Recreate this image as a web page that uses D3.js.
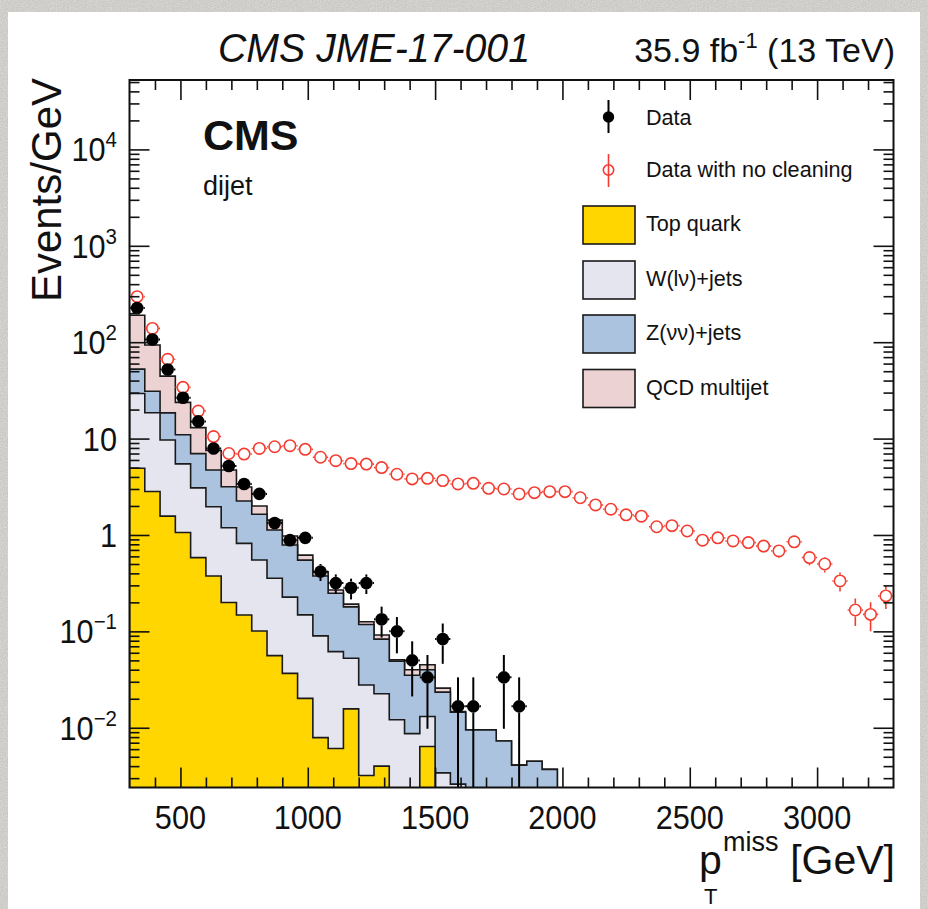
<!DOCTYPE html>
<html>
<head>
<meta charset="utf-8">
<script src="https://cdn.jsdelivr.net/npm/d3@7"></script>
<style>
  html, body { margin: 0; padding: 0; background: #dcd9d4; }
  svg { display: block; }
  text { font-family: "Liberation Sans", Arial, Helvetica, sans-serif; fill: #111; }
</style>
</head>
<body>
<svg id="chart" width="928" height="909"></svg>
<script>
// ---- binning: 50 bins of 60 GeV from 300 to 3300 GeV ----
const binLow = 300;
const binWidth = 60;
const nBins = 50;

// ---- simulated backgrounds, events/GeV per bin ----
const topQuark = [4.92, 2.83, 1.57, 1.06, 0.582, 0.376, 0.199, 0.148, 0.101, 0.056,
  0.0367, 0.0202, 0.0079, 0.0061, 0.0157, 0.0032, 0.0040, 0, 0, 0.0064,
  0, 0, 0, 0, 0, 0, 0, 0, 0, 0, 0, 0, 0, 0, 0, 0, 0, 0, 0, 0,
  0, 0, 0, 0, 0, 0, 0, 0, 0, 0];
const wJets = [24.4, 15.7, 8.1, 4.4, 2.5, 1.59, 0.99, 0.67, 0.45, 0.30,
  0.19, 0.128, 0.082, 0.0555, 0.037, 0.0246, 0.0185, 0.0121, 0.0087, 0.0067,
  0.0034, 0.0026, 0, 0, 0, 0, 0, 0, 0, 0, 0, 0, 0, 0, 0, 0, 0, 0, 0, 0,
  0, 0, 0, 0, 0, 0, 0, 0, 0, 0];
const zJets = [23.2, 12.5, 8.8, 5.5, 3.9, 2.75, 1.98, 1.43, 1.09, 0.77,
  0.56, 0.40, 0.286, 0.187, 0.127, 0.090, 0.0605, 0.0369, 0.0263, 0.0269,
  0.020, 0.0119, 0.0095, 0.0095, 0.0073, 0.0041, 0.0045, 0.0037, 0, 0,
  0, 0, 0, 0, 0, 0, 0, 0, 0, 0, 0, 0, 0, 0, 0, 0, 0, 0, 0, 0];
const qcdMultijet = [138, 62.5, 26, 12.8, 6.0, 2.8, 1.55, 0.90, 0.36, 0.30,
  0.19, 0.07, 0.04, 0.02, 0.012, 0.008, 0.0087, 0.0016, 0.005, 0.005,
  0.0024, 0.0002, 0, 0, 0, 0, 0, 0, 0, 0, 0, 0, 0, 0, 0, 0, 0, 0, 0, 0,
  0, 0, 0, 0, 0, 0, 0, 0, 0, 0];

// ---- observed event counts per bin ----
const dataCounts = [13600, 6400, 3130, 1590, 905, 474, 312, 203, 160, 80,
  53, 56, 25, 19, 17, 19, 8, 6, 3, 2,
  5, 1, 1, 0, 2, 1, 0, 0, 0, 0, 0, 0, 0, 0, 0, 0, 0, 0, 0, 0,
  0, 0, 0, 0, 0, 0, 0, 0, 0, 0];
const dataNoCleaningCounts = [17820, 8340, 3990, 2040, 1158, 630, 420, 414, 474, 494,
  506, 464, 384, 354, 330, 326, 300, 256, 229, 232,
  220, 203, 206, 183, 180, 160, 165, 169, 169, 146,
  123, 111, 97, 94, 73, 75, 66, 53, 56, 52,
  50, 46, 41, 51, 35, 30, 20, 10, 9, 14];

// ---- axes ----
const xMajorTicks = [500, 1000, 1500, 2000, 2500, 3000];
const yMajorTicks = [1e-2, 1e-1, 1, 10, 1e2, 1e3, 1e4];
const yTickExponents = ["\u22122", "\u22121", null, null, "2", "3", "4"];
const yTickBases = ["10", "10", "1", "10", "10", "10", "10"];

const processes = [
  { key: "top", label: "Top quark", values: topQuark, color: "#ffd600" },
  { key: "w", label: "W(l\u03bd)+jets", values: wJets, color: "#e5e5f0" },
  { key: "z", label: "Z(\u03bd\u03bd)+jets", values: zJets, color: "#abc3df" },
  { key: "qcd", label: "QCD multijet", values: qcdMultijet, color: "#ecd2d3" }
];

const svg = d3.select("#chart");
const W = 928, H = 909;
const plot = { left: 129.5, right: 893.5, top: 80, bottom: 787.5 };

// paper-like backdrop and white sheet
const defs = svg.append("defs");
const grain = defs.append("filter").attr("id", "grain")
  .attr("x", 0).attr("y", 0).attr("width", "100%").attr("height", "100%");
grain.append("feTurbulence").attr("type", "fractalNoise")
  .attr("baseFrequency", 0.8).attr("numOctaves", 2).attr("seed", 11);
grain.append("feColorMatrix").attr("type", "matrix")
  .attr("values", "0.33 0.33 0.33 0 0  0.33 0.33 0.33 0 0  0.33 0.33 0.33 0 0  0 0 0 0 0.35");
svg.append("rect").attr("width", W).attr("height", H).attr("fill", "#dcd9d4");
svg.append("rect").attr("width", W).attr("height", H).attr("filter", "url(#grain)");
svg.append("rect").attr("x", 8).attr("y", 12).attr("width", 912).attr("height", H - 12)
  .attr("fill", "#ffffff");

defs.append("clipPath").attr("id", "plotClip").append("rect")
  .attr("x", plot.left).attr("y", plot.top)
  .attr("width", plot.right - plot.left).attr("height", plot.bottom - plot.top);

const x = d3.scaleLinear().domain([binLow, binLow + nBins * binWidth])
  .range([plot.left, plot.right]);
const yMin = 0.0024, yMax = 52500;
const y = d3.scaleLog().domain([yMin, yMax]).range([plot.bottom, plot.top]);
const yPos = v => (v > 0 ? y(Math.max(v, yMin * 0.5)) : plot.bottom + 6);

// ---- stacked histogram ----
const rows = d3.range(nBins).map(i => {
  const r = { bin: i };
  processes.forEach(p => { r[p.key] = p.values[i]; });
  return r;
});
const stack = d3.stack().keys(processes.map(p => p.key))(rows);

const plotArea = svg.append("g").attr("clip-path", "url(#plotClip)");

const stepArea = d3.area()
  .curve(d3.curveStepAfter)
  .x(d => x(binLow + d.i * binWidth))
  .y0(plot.bottom + 6)
  .y1(d => yPos(d.v));

// draw the tallest (cumulative) layer first so lower ones sit on top of it
stack.slice().reverse().forEach(layer => {
  const proc = processes.find(p => p.key === layer.key);
  const pts = layer.map((d, i) => ({ i, v: d[1] }));
  pts.push({ i: nBins, v: layer[nBins - 1][1] });
  plotArea.append("path")
    .attr("d", stepArea(pts))
    .attr("fill", proc.color)
    .attr("stroke", "#1a1a1a")
    .attr("stroke-width", 1.6)
    .attr("stroke-linejoin", "miter");
});

// ---- data points with sqrt(N) error bars ----
function drawPoints(counts, opts) {
  const g = plotArea.append("g");
  counts.forEach((n, i) => {
    if (n <= 0) return;
    const cx = x(binLow + (i + 0.5) * binWidth);
    const v = n / binWidth;
    const err = Math.sqrt(n) / binWidth;
    const cy = y(v);
    const yHi = y(v + err);
    const yLo = v - err > 0 ? y(v - err) : plot.bottom + 6;
    const xLo = x(binLow + i * binWidth);
    const xHi = x(binLow + (i + 1) * binWidth);
    const r = opts.r;
    const segs = [
      [cx, yHi, cx, cy - r],
      [cx, cy + r, cx, yLo],
      [xLo, cy, cx - r, cy],
      [cx + r, cy, xHi, cy]
    ];
    segs.forEach(s => {
      const valid = (s[0] === s[2]) ? (s[3] - s[1] > 0.1) : (s[2] - s[0] > 0.1);
      if (!valid) return;
      g.append("line").attr("x1", s[0]).attr("y1", s[1]).attr("x2", s[2]).attr("y2", s[3])
        .attr("stroke", opts.color).attr("stroke-width", opts.lineWidth);
    });
    g.append("circle").attr("cx", cx).attr("cy", cy).attr("r", opts.open ? r - 0.8 : r)
      .attr("fill", opts.open ? "none" : opts.color)
      .attr("stroke", opts.color)
      .attr("stroke-width", opts.open ? 1.6 : 0);
  });
}
drawPoints(dataNoCleaningCounts, { color: "#f53b30", r: 6.5, open: true, lineWidth: 1.6 });
drawPoints(dataCounts, { color: "#000000", r: 6.3, open: false, lineWidth: 2 });

// ---- axes (ticks pointing inward on all four sides) ----
const xMinor = d3.range(400, 3300, 100).filter(v => !xMajorTicks.includes(v));
const yMinor = [];
for (let e = -3; e <= 4; e++) {
  for (let k = 2; k <= 9; k++) {
    const v = k * Math.pow(10, e);
    if (v > yMin && v < yMax) yMinor.push(v);
  }
}
const axisStyle = g => {
  g.select(".domain").remove();
  g.selectAll(".tick line").attr("stroke", "#111").attr("stroke-width", 1.6);
  g.selectAll(".tick text").remove();
};
const addAxis = (axisFn, scale, values, size, tx, ty) => {
  svg.append("g").attr("transform", `translate(${tx},${ty})`)
    .call(axisFn(scale).tickValues(values).tickSize(-size).tickFormat(""))
    .call(axisStyle);
};
addAxis(d3.axisBottom, x, xMinor, 10, 0, plot.bottom);
addAxis(d3.axisBottom, x, xMajorTicks, 20, 0, plot.bottom);
addAxis(d3.axisTop, x, xMinor, 10, 0, plot.top);
addAxis(d3.axisTop, x, xMajorTicks, 20, 0, plot.top);
addAxis(d3.axisLeft, y, yMinor, 10, plot.left, 0);
addAxis(d3.axisLeft, y, yMajorTicks, 20, plot.left, 0);
addAxis(d3.axisRight, y, yMinor, 10, plot.right, 0);
addAxis(d3.axisRight, y, yMajorTicks, 20, plot.right, 0);

svg.append("rect")
  .attr("x", plot.left).attr("y", plot.top)
  .attr("width", plot.right - plot.left).attr("height", plot.bottom - plot.top)
  .attr("fill", "none").attr("stroke", "#111").attr("stroke-width", 2);

// tick labels (slightly narrowed glyphs)
svg.append("g").selectAll("text").data(xMajorTicks).join("text")
  .attr("transform", d => `translate(${x(d)},829) scale(0.93,1)`)
  .attr("text-anchor", "middle").attr("font-size", 33)
  .text(d => d);

const yLab = svg.append("g").selectAll("text").data(yMajorTicks).join("text")
  .attr("transform", d => `translate(117,${y(d) + 12}) scale(0.93,1)`)
  .attr("text-anchor", "end").attr("font-size", 33);
yLab.each(function (d, i) {
  const t = d3.select(this);
  t.append("tspan").text(yTickBases[i]);
  if (yTickExponents[i]) {
    t.append("tspan").attr("font-size", 22).attr("dy", -14).text(yTickExponents[i]);
  }
});

// axis titles
svg.append("text")
  .attr("transform", `translate(61,${plot.top - 2}) rotate(-90)`)
  .attr("text-anchor", "end").attr("font-size", 42)
  .text("Events/GeV");

svg.append("text").attr("x", 895).attr("y", 874).attr("text-anchor", "end")
  .attr("font-size", 41).text("[GeV]");
svg.append("text").attr("x", 699).attr("y", 874).attr("font-size", 41).text("p");
svg.append("text").attr("x", 723).attr("y", 851).attr("font-size", 27).text("miss");
svg.append("text").attr("x", 704).attr("y", 904).attr("font-size", 22).text("T");

// header
svg.append("text").attr("x", 218).attr("y", 62).attr("font-size", 40)
  .attr("font-style", "italic").attr("fill", "#222")
  .attr("textLength", 312).attr("lengthAdjust", "spacingAndGlyphs")
  .text("CMS JME-17-001");
const lumi = svg.append("text").attr("x", 895).attr("y", 62).attr("text-anchor", "end")
  .attr("font-size", 34);
lumi.append("tspan").text("35.9 fb");
lumi.append("tspan").attr("font-size", 22).attr("dy", -14).text("-1");
lumi.append("tspan").attr("dy", 14).text(" (13 TeV)");

svg.append("text").attr("x", 203).attr("y", 150).attr("font-size", 43)
  .attr("font-weight", "bold").text("CMS");
svg.append("text").attr("x", 203).attr("y", 195).attr("font-size", 27).text("dijet");

// ---- legend ----
const legend = svg.append("g");
const legX = 646, markX = 608.5;
legend.append("line").attr("x1", markX).attr("x2", markX).attr("y1", 100).attr("y2", 133)
  .attr("stroke", "#000").attr("stroke-width", 2);
legend.append("circle").attr("cx", markX).attr("cy", 117).attr("r", 5.7).attr("fill", "#000");
legend.append("text").attr("x", legX).attr("y", 124.5).attr("font-size", 21.6).text("Data");

legend.append("line").attr("x1", markX).attr("x2", markX).attr("y1", 154).attr("y2", 187)
  .attr("stroke", "#f53b30").attr("stroke-width", 1.6);
legend.append("circle").attr("cx", markX).attr("cy", 170).attr("r", 5.2)
  .attr("fill", "none").attr("stroke", "#f53b30").attr("stroke-width", 1.6);
legend.append("text").attr("x", legX).attr("y", 177).attr("font-size", 21.6)
  .text("Data with no cleaning");

const boxTops = [206, 261, 315, 369.5];
processes.forEach((p, i) => {
  legend.append("rect").attr("x", 583).attr("y", boxTops[i]).attr("width", 52).attr("height", 38)
    .attr("fill", p.color).attr("stroke", "#1a1a1a").attr("stroke-width", 1.6);
  legend.append("text").attr("x", legX).attr("y", boxTops[i] + 25).attr("font-size", 21.6)
    .text(p.label);
});
</script>
</body>
</html>
